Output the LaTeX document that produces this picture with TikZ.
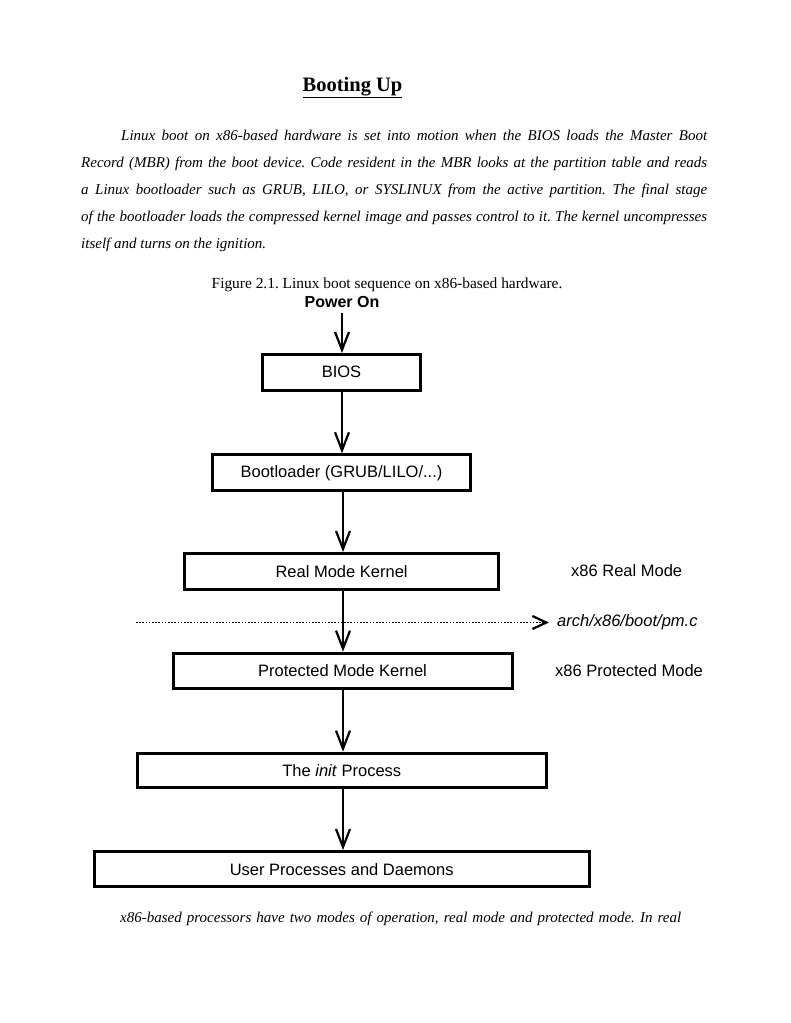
\documentclass[tikz,border=0pt]{standalone}
\usepackage{fontspec}
\setmainfont{Liberation Serif}
\newfontfamily\helv{Liberation Sans}
\usetikzlibrary{arrows.meta}
\frenchspacing
\tikzset{
  stagebox/.style={draw, line width=3pt, inner sep=0pt, font=\helv\fontsize{16.5}{19}\selectfont},
  flow/.style={line width=2pt, -{Straight Barb[length=18pt,width=14pt,line width=2.2pt]}},
  dotflow/.style={line width=1.6pt, dash pattern=on 1.6pt off 1.6pt, -{Straight Barb[length=14pt,width=13pt,line width=2.2pt,sep=0pt]}},
  sidelabel/.style={anchor=west, inner sep=0pt, font=\helv\fontsize{16.5}{19}\selectfont},
  bodyline/.style={anchor=base west, inner sep=0pt, font=\fontsize{15}{18}\selectfont\itshape},
}
\begin{document}
\begin{tikzpicture}[x=1pt,y=-1pt]
\useasboundingbox (0,0) rectangle (791,1023);
\fill[white] (0,0) rectangle (791,1023);
% title
\node[anchor=base, inner sep=0pt, font=\bfseries\fontsize{20.5}{24}\selectfont] (title) at (352.5,91.5) {\underline{Booting Up}};
% paragraph
\node[bodyline] (l1) at (121,140) {\makebox[586pt][s]{Linux boot on x86-based hardware is set into motion when the BIOS loads the Master Boot}};
\node[bodyline] (l2) at (81,167) {\makebox[626pt][s]{Record (MBR) from the boot device. Code resident in the MBR looks at the partition table and reads}};
\node[bodyline] (l3) at (81,194) {\makebox[626pt][s]{a Linux bootloader such as GRUB, LILO, or SYSLINUX from the active partition. The final stage}};
\node[bodyline] (l4) at (81,221) {\makebox[626pt][s]{of the bootloader loads the compressed kernel image and passes control to it. The kernel uncompresses}};
\node[bodyline] (l5) at (81,248) {itself and turns on the ignition.};
% caption
\node[anchor=base west, inner sep=0pt, font=\fontsize{15.4}{18}\selectfont] (caption) at (211.5,288) {Figure 2.1. Linux boot sequence on x86-based hardware.};
% diagram
\node[inner sep=0pt, font=\helv\bfseries\fontsize{16}{19}\selectfont] (power) at (342,302) {Power On};
\node[stagebox, minimum width=158pt, minimum height=35.7pt] (bios) at (341.5,372.3) {BIOS};
\node[stagebox, minimum width=258.6pt, minimum height=36pt] (boot) at (341.5,472.8) {Bootloader (GRUB/LILO/...)};
\node[stagebox, minimum width=313.7pt, minimum height=36pt] (rmk) at (341.6,571.5) {Real Mode Kernel};
\node[stagebox, minimum width=339pt, minimum height=35.3pt] (pmk) at (342.5,670.8) {Protected Mode Kernel};
\node[stagebox, minimum width=408.7pt, minimum height=34.6pt] (init) at (341.8,770.5) {The \textit{init} Process};
\node[stagebox, minimum width=495pt, minimum height=35.3pt] (user) at (341.7,869.2) {User Processes and Daemons};
\node[sidelabel] (rml) at (571,571) {x86 Real Mode};
\node[sidelabel] (pml) at (555,671) {x86 Protected Mode};
\node[sidelabel, font=\helv\itshape\fontsize{16.5}{19}\selectfont] (pmfile) at (557,622.5) {arch/x86/boot/pm.c};
\coordinate (dotstart) at (136,622.5);
\draw[dotflow] (dotstart) -- ([xshift=-8pt]pmfile.west);
\draw[flow] ([yshift=-5pt]power.south -| 342,0) -- (342,0 |- bios.north);
\draw[flow] (342,0 |- bios.south) -- (342,0 |- boot.north);
\draw[flow] (343,0 |- boot.south) -- (343,0 |- rmk.north);
\draw[flow] (343,0 |- rmk.south) -- (343,0 |- pmk.north);
\draw[flow] (343,0 |- pmk.south) -- (343,0 |- init.north);
\draw[flow] (343,0 |- init.south) -- (343,0 |- user.north);
% bottom line
\node[bodyline] (bottom) at (120,922) {\makebox[561pt][s]{x86-based processors have two modes of operation, real mode and protected mode. In real}};
\end{tikzpicture}
\end{document}
